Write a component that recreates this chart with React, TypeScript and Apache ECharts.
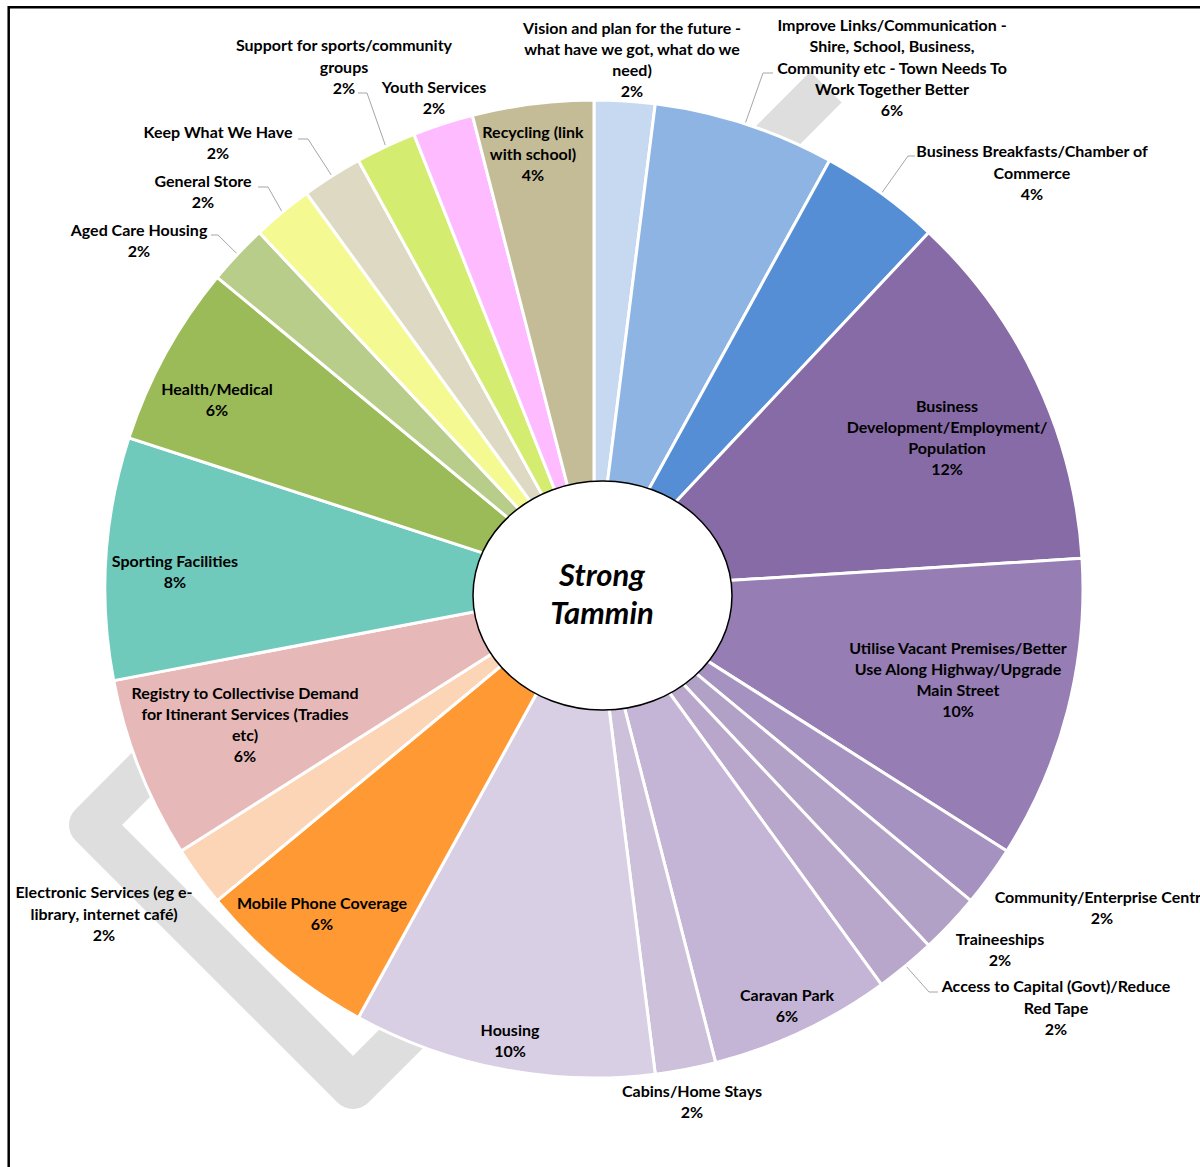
import React, { useEffect, useRef } from 'react';
import * as echarts from 'echarts';

// ---- data ----
const categories: string[] = [
  'Vision and plan for the future -\nwhat have we got, what do we\nneed)',
  'Improve Links/Communication -\nShire, School, Business,\nCommunity etc - Town Needs To\nWork Together Better',
  'Business Breakfasts/Chamber of\nCommerce',
  'Business\nDevelopment/Employment/\nPopulation',
  'Utilise Vacant Premises/Better\nUse Along Highway/Upgrade\nMain Street',
  'Community/Enterprise Centre',
  'Traineeships',
  'Access to Capital (Govt)/Reduce\nRed Tape',
  'Caravan Park',
  'Cabins/Home Stays',
  'Housing',
  'Mobile Phone Coverage',
  'Electronic Services (eg e-\nlibrary, internet café)',
  'Registry to Collectivise Demand\nfor Itinerant Services (Tradies\netc)',
  'Sporting Facilities',
  'Health/Medical',
  'Aged Care Housing',
  'General Store',
  'Keep What We Have',
  'Support for sports/community\ngroups',
  'Youth Services',
  'Recycling (link\nwith school)',
];

const percentages: number[] = [2, 6, 4, 12, 10, 2, 2, 2, 6, 2, 10, 6, 2, 6, 8, 6, 2, 2, 2, 2, 2, 4];

const centerTitle = 'Strong\nTammin';

// ---- styles / layout ----
const sliceColors: string[] = [
  '#c6d9f1', '#8eb4e3', '#558ed5', '#866ba6', '#967db4', '#a592c0', '#b2a1c6', '#b9a7cb',
  '#c4b4d6', '#ccc0da', '#d9cfe4', '#ff9933', '#fbd5b5', '#e6b9b8', '#6fcabb', '#9bbb59',
  '#b7cd89', '#f5f992', '#ddd9c3', '#d4ec70', '#ffbbff', '#c4bc96',
];

const PIE_CX = 594;
const PIE_CY = 589;
const PIE_R = 489;

// centres of each label block
const labelCenters: number[][] = [
  [632, 59], [892, 67], [1032, 172], [947, 437], [958, 679], [1102, 907], [1000, 949],
  [1056, 1007], [787, 1005], [692, 1101], [510, 1040], [322, 913], [104, 913], [245, 724],
  [175, 571], [217, 399], [139, 240], [203, 191], [218, 142], [344, 66], [434, 97], [533, 153],
];

// leader line elbow + end for labels that have one
const leaders: Record<number, number[][]> = {
  1: [[763, 73], [773, 73]],
  2: [[908, 156], [915, 156]],
  7: [[929, 992], [938, 992]],
  16: [[218, 235], [211, 235]],
  17: [[268, 187], [258, 187]],
  18: [[308, 139], [298, 139]],
  19: [[367, 93], [358, 93]],
};

const total = percentages.reduce((a, b) => a + b, 0);
function midAngle(i: number): number {
  let before = 0;
  for (let k = 0; k < i; k++) before += percentages[k];
  return ((before + percentages[i] / 2) / total) * Math.PI * 2;
}

export default function App() {
  const ref = useRef<HTMLDivElement>(null);
  useEffect(() => {
    if (!ref.current) return;
    const chart = echarts.init(ref.current, undefined, { renderer: 'svg' });
    const option: any = {
      animation: false,
      backgroundColor: '#ffffff',
      graphic: [
        {
          type: 'rect',
          z: 0,
          shape: { x: 8.7, y: 7.3, width: 1400, height: 1400 },
          style: { fill: 'none', stroke: '#000', lineWidth: 2.5 },
        },
        {
          type: 'polyline',
          z: 0,
          shape: { points: [[826, 87], [91, 825], [353, 1087], [470, 970]] },
          style: { fill: 'none', stroke: '#dedede', lineWidth: 44, lineJoin: 'round', lineCap: 'butt' },
        },
        {
          type: 'ellipse',
          z: 50,
          shape: { cx: 602.5, cy: 595.5, rx: 129.5, ry: 114.5 },
          style: { fill: '#ffffff', stroke: '#000', lineWidth: 1.5 },
        },
        {
          type: 'text',
          z: 51,
          x: 602,
          y: 593,
          style: {
            text: centerTitle,
            fill: '#000',
            font: 'italic bold 31px Lato',
            align: 'center',
            verticalAlign: 'middle',
            lineHeight: 38,
          },
        },
      ],
      series: [
        {
          type: 'pie',
          z: 2,
          center: [PIE_CX, PIE_CY],
          radius: [0, PIE_R],
          startAngle: 90,
          clockwise: true,
          avoidLabelOverlap: false,
          percentPrecision: 0,
          itemStyle: { borderColor: '#ffffff', borderWidth: 3 },
          label: {
            formatter: '{b}\n{c}%',
            fontFamily: 'Lato',
            fontWeight: 'bold',
            fontSize: 16,
            lineHeight: 21.3,
            color: '#000',
            align: 'center',
          },
          labelLine: { length: 5, length2: 5, lineStyle: { color: '#a6a6a6', width: 1 } },
          emphasis: { disabled: true },
          labelLayout: (params: any) => {
            const i = params.dataIndex;
            const c = labelCenters[i];
            const res: any = { x: c[0], y: c[1], align: 'center', verticalAlign: 'middle' };
            const l = leaders[i];
            if (l) {
              const a = midAngle(i);
              const p0 = [PIE_CX + PIE_R * Math.sin(a), PIE_CY - PIE_R * Math.cos(a)];
              res.labelLinePoints = [p0, l[0], l[1]];
            }
            return res;
          },
          data: categories.map((name, i) => ({
            name,
            value: percentages[i],
            itemStyle: { color: sliceColors[i] },
            label: { position: leaders[i] ? 'outside' : 'inside', width: 340 },
            labelLine: { show: !!leaders[i] },
          })),
        },
      ],
    };
    chart.setOption(option);
    return () => chart.dispose();
  }, []);
  return (
    <div
      ref={ref}
      style={{ position: 'absolute', left: 0, top: 0, width: 1200, height: 1167 }}
    />
  );
}
